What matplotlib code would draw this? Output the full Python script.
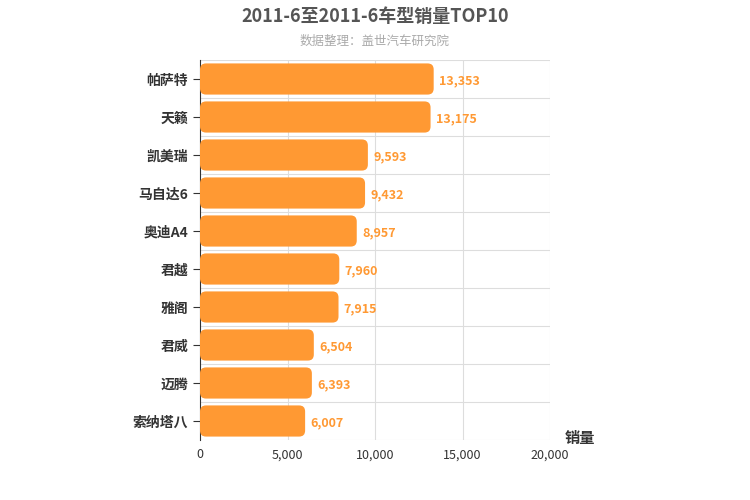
#!/usr/bin/env python3

import matplotlib.pyplot as plt
from matplotlib.patches import FancyBboxPatch

plt.rcParams['font.family'] = ['Noto Sans CJK SC', 'DejaVu Sans']

# Data
models = ['帕萨特', '天籁', '凯美瑞', '马自达6', '奥迪A4', '君越', '雅阁', '君威', '迈腾', '索纳塔八']
sales = [13353, 13175, 9593, 9432, 8957, 7960, 7915, 6504, 6393, 6007]
x_ticks = [0, 5000, 10000, 15000, 20000]

fig = plt.figure(figsize=(7.5, 5), dpi=100)
ax = fig.add_axes([200 / 750, 60 / 500, 350 / 750, 380 / 500])

n = len(models)
ys = list(range(n - 1, -1, -1))
bar_h = 0.82
# aspect of data units (y per x) at pixel level
x_per_px = 20000 / 350
y_per_px = n / 380
aspect = y_per_px / x_per_px
for y, v in zip(ys, sales):
    box = FancyBboxPatch((0, y - bar_h / 2), v, bar_h,
                         boxstyle=f'round,pad=0,rounding_size={6 * x_per_px}',
                         mutation_aspect=aspect,
                         facecolor='#ff9933', edgecolor='none', zorder=3)
    ax.add_patch(box)
    ax.text(v + 300, y - 0.05, f'{v:,}', va='center', ha='left',
            fontsize=9, color='#ff9933', fontweight='bold', zorder=4)

ax.set_xlim(0, 20000)
ax.set_ylim(-0.5, n - 0.5)
ax.set_xticks(x_ticks)
ax.set_xticklabels([f'{t:,}' for t in x_ticks], fontsize=9, color='#333333')
ax.set_yticks(ys)
ax.set_yticklabels(models, fontsize=10, fontweight='bold', color='#333333')

# Grid
for t in x_ticks[1:]:
    ax.axvline(t, color='#dddddd', linewidth=0.8, zorder=1)
for b in range(n):
    ax.axhline(b + 0.5, color='#dddddd', linewidth=0.8, zorder=1)

for s in ['top', 'right', 'bottom']:
    ax.spines[s].set_visible(False)
ax.spines['left'].set_color('#333333')
ax.tick_params(axis='y', length=5, color='#333333')
ax.tick_params(axis='x', length=0, pad=6)
ax.axhline(-0.5, color='#dddddd', linewidth=0.8)

# Titles
fig.text(0.5, 1 - 17 / 500, '2011-6至2011-6车型销量TOP10', ha='center', va='center',
         fontsize=13, fontweight='bold', color='#555555')
fig.text(0.5, 1 - 41 / 500, '数据整理：盖世汽车研究院', ha='center', va='center',
         fontsize=9, color='#aaaaaa')
fig.text(580 / 750, 1 - 438 / 500, '销量', ha='center', va='center',
         fontsize=11, fontweight='bold', color='#333333')

fig.savefig('out.png', dpi=100)
